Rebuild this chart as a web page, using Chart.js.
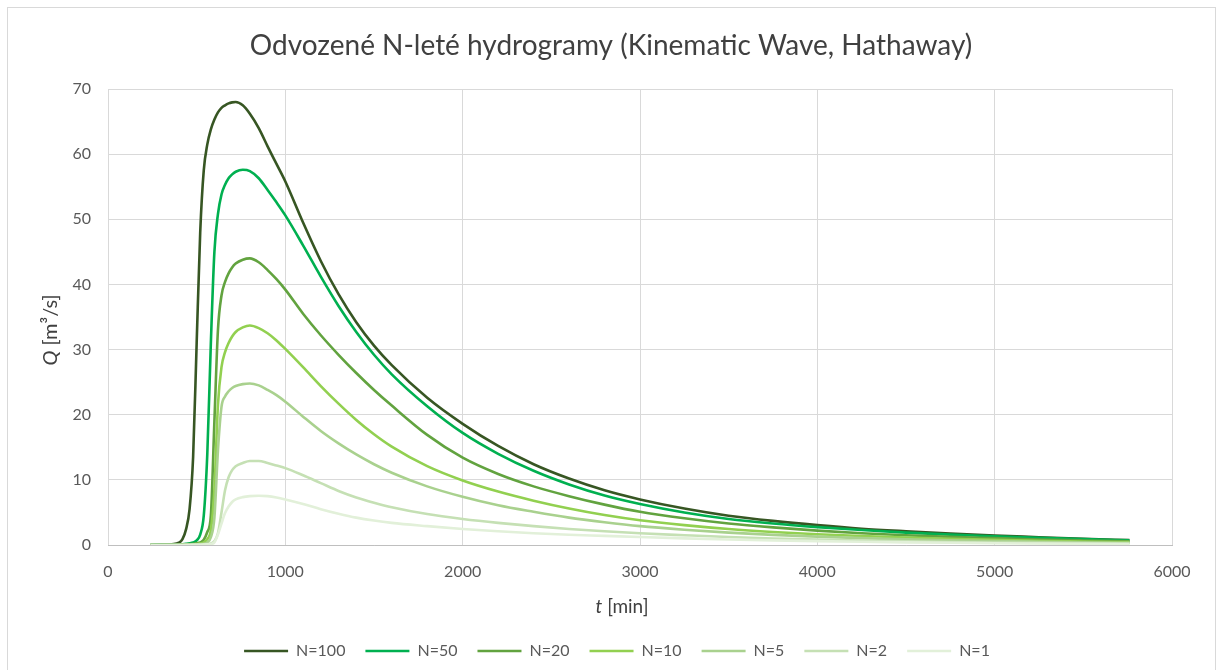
<!DOCTYPE html>
<html>
<head>
<meta charset="utf-8">
<script src="https://cdn.jsdelivr.net/npm/chart.js@4.4.1/dist/chart.umd.min.js"></script>
<style>
  html, body { margin: 0; padding: 0; background: #ffffff; }
  canvas { display: block; }
</style>
</head>
<body>
<canvas id="chart" width="1220" height="670"></canvas>
<script>
// Time axis [min]
const times = [240, 300, 360, 400, 420, 440, 460, 480, 500, 520, 540, 560, 580, 600, 620, 640, 660, 680, 700, 720,
               760, 800, 850, 900, 950, 1000, 1100, 1200, 1300, 1400, 1500, 1600, 1800, 2000,
               2200, 2400, 2600, 2800, 3000, 3250, 3500, 3750, 4000, 4250, 4500, 4750, 5000, 5250, 5500, 5760];

// Discharge Q [m3/s] for each return period
const qN100 = [0.02, 0.05, 0.12, 0.35, 0.9, 2.4, 5.5, 13.5, 31, 48, 57.5, 61.5, 63.8, 65.3, 66.4, 67.1, 67.5, 67.8, 67.95, 68.0,
               67.5, 66.2, 64.0, 61.2, 58.5, 55.8, 49.5, 43.6, 38.5, 34.2, 30.6, 27.6, 22.6, 18.6,
               15.2, 12.4, 10.2, 8.4, 7.0, 5.6, 4.5, 3.7, 3.05, 2.5, 2.1, 1.75, 1.45, 1.2, 0.95, 0.75];
const qN50  = [0.01, 0.02, 0.04, 0.08, 0.12, 0.18, 0.26, 0.4, 0.7, 1.6, 4.5, 14, 31, 45, 50.8, 53.8, 55.3, 56.3, 56.9, 57.3,
               57.6, 57.4, 56.3, 54.5, 52.6, 50.6, 46.0, 41.2, 36.7, 32.7, 29.2, 26.2, 21.3, 17.2,
               14.0, 11.4, 9.3, 7.6, 6.3, 5.0, 4.0, 3.3, 2.75, 2.3, 1.9, 1.6, 1.35, 1.1, 0.9, 0.72];
const qN20  = [0, 0.01, 0.02, 0.04, 0.06, 0.09, 0.13, 0.18, 0.26, 0.4, 0.8, 2.0, 4.5, 19, 33, 38.3, 40.4, 41.7, 42.6, 43.2,
               43.8, 44.0, 43.4, 42.2, 40.8, 39.2, 35.5, 32.2, 29.2, 26.4, 23.8, 21.4, 16.9, 13.4,
               10.9, 9.0, 7.5, 6.2, 5.1, 4.1, 3.3, 2.7, 2.2, 1.8, 1.5, 1.25, 1.05, 0.85, 0.7, 0.57];
const qN10  = [0, 0, 0.01, 0.02, 0.03, 0.05, 0.07, 0.1, 0.14, 0.22, 0.4, 0.9, 2.3, 8.5, 21.5, 27.3, 29.6, 31.0, 32.0, 32.7,
               33.4, 33.7, 33.3, 32.5, 31.4, 30.1, 27.3, 24.4, 21.7, 19.2, 17.0, 15.1, 12.1, 9.9,
               8.2, 6.8, 5.6, 4.6, 3.8, 3.05, 2.45, 2.0, 1.65, 1.38, 1.15, 0.95, 0.8, 0.66, 0.54, 0.44];
const qN5   = [0, 0, 0.01, 0.01, 0.02, 0.03, 0.04, 0.06, 0.09, 0.13, 0.2, 0.4, 1.2, 4.2, 14.5, 21.2, 22.8, 23.6, 24.1, 24.4,
               24.7, 24.8, 24.5, 23.8, 23.0, 22.0, 19.7, 17.5, 15.6, 13.9, 12.4, 11.1, 9.0, 7.4,
               6.1, 5.1, 4.2, 3.5, 2.9, 2.35, 1.9, 1.55, 1.28, 1.05, 0.87, 0.72, 0.6, 0.5, 0.41, 0.34];
const qN2   = [0, 0, 0, 0.01, 0.01, 0.02, 0.02, 0.03, 0.05, 0.07, 0.1, 0.15, 0.25, 0.6, 1.8, 5.0, 8.4, 10.4, 11.5, 12.1,
               12.6, 12.9, 12.9, 12.6, 12.2, 11.8, 10.7, 9.5, 8.3, 7.3, 6.5, 5.8, 4.75, 4.0,
               3.4, 2.9, 2.45, 2.1, 1.8, 1.5, 1.22, 1.0, 0.83, 0.69, 0.57, 0.47, 0.39, 0.32, 0.27, 0.22];
const qN1   = [0, 0, 0, 0, 0.01, 0.01, 0.01, 0.02, 0.03, 0.04, 0.06, 0.09, 0.15, 0.4, 1.6, 3.3, 4.9, 5.9, 6.6, 7.0,
               7.35, 7.5, 7.55, 7.5, 7.3, 7.0, 6.3, 5.5, 4.8, 4.2, 3.75, 3.4, 2.9, 2.45,
               2.1, 1.8, 1.57, 1.4, 1.22, 1.02, 0.85, 0.71, 0.59, 0.49, 0.41, 0.34, 0.28, 0.23, 0.19, 0.16];

const seriesLabels = ['N=100', 'N=50', 'N=20', 'N=10', 'N=5', 'N=2', 'N=1'];
const seriesValues = [qN100, qN50, qN20, qN10, qN5, qN2, qN1];
const seriesColors = ['#375623', '#00B050', '#62A33F', '#92D050', '#A9D18E', '#C5E0B4', '#E2F0D9'];

const xTickValues = [0, 1000, 2000, 3000, 4000, 5000, 6000];
const yTickValues = [0, 10, 20, 30, 40, 50, 60, 70];

const chartTitle = 'Odvozené N-leté hydrogramy (Kinematic Wave, Hathaway)';

const FONT = 'Lato, "Open Sans", sans-serif';
const TEXT_DARK = '#404040';
const TEXT_GREY = '#595959';

const datasets = seriesLabels.map((label, i) => ({
  label: label,
  data: times.map((t, k) => ({ x: t, y: seriesValues[i][k] })),
  borderColor: seriesColors[i],
  backgroundColor: seriesColors[i],
  borderWidth: 2.6,
  pointRadius: 0,
  pointHoverRadius: 0,
  fill: false,
  cubicInterpolationMode: 'monotone',
  order: seriesLabels.length - 1 - i
}));

// Draws a run of text pieces with their own font styles, centred on (cx, cy)
function drawRuns(ctx, runs, cx, cy) {
  let total = 0;
  runs.forEach(r => { ctx.font = r.font; r.w = ctx.measureText(r.text).width; total += r.w; });
  let x = cx - total / 2;
  ctx.textBaseline = 'middle';
  ctx.textAlign = 'left';
  runs.forEach(r => { ctx.font = r.font; ctx.fillText(r.text, x, cy); x += r.w; });
}

const decorations = {
  id: 'decorations',
  afterLayout(chart) {
    // centre the legend row under the whole figure rather than the padded box
    if (chart.legend) {
      chart.legend.left += 31;
      chart.legend.right += 31;
    }
  },
  beforeDraw(chart) {
    const ctx = chart.ctx;
    ctx.save();
    ctx.fillStyle = '#ffffff';
    ctx.fillRect(0, 0, chart.width, chart.height);
    ctx.strokeStyle = '#d9d9d9';
    ctx.lineWidth = 1;
    ctx.strokeRect(7.5, 7.5, 1208, 700);
    ctx.restore();
  },
  afterDraw(chart) {
    const ctx = chart.ctx;
    const area = chart.chartArea;
    ctx.save();
    ctx.fillStyle = TEXT_DARK;
    ctx.font = '28px ' + FONT;
    ctx.textAlign = 'center';
    ctx.textBaseline = 'middle';
    ctx.fillText(chartTitle, 611, 46);

    // x axis title
    drawRuns(ctx, [
      { text: 't', font: 'italic 19px ' + FONT },
      { text: ' [min]', font: '19px ' + FONT }
    ], 622, area.bottom + 62);

    // y axis title
    ctx.translate(51, 330);
    ctx.rotate(-Math.PI / 2);
    drawRuns(ctx, [
      { text: 'Q', font: 'italic 20px ' + FONT },
      { text: ' [m³/s]', font: '20px ' + FONT }
    ], 0, 0);
    ctx.restore();
  }
};

new Chart(document.getElementById('chart'), {
  type: 'line',
  data: { datasets: datasets },
  options: {
    responsive: false,
    animation: false,
    events: [],
    layout: { padding: { top: 89, right: 48, bottom: 1, left: 0 } },
    plugins: {
      title: { display: false },
      tooltip: { enabled: false },
      legend: {
        position: 'bottom',
        labels: {
          usePointStyle: true,
          pointStyle: 'line',
          pointStyleWidth: 44,
          padding: 20,
          color: TEXT_GREY,
          font: { family: FONT, size: 16 },
          sort: (a, b) => a.datasetIndex - b.datasetIndex
        }
      }
    },
    scales: {
      x: {
        type: 'linear',
        min: 0,
        max: 6000,
        afterBuildTicks: s => { s.ticks = xTickValues.map(v => ({ value: v })); },
        afterFit: s => { s.height = 78; },
        grid: { color: '#d9d9d9', lineWidth: 1, drawTicks: false },
        border: { display: true, color: '#bfbfbf', width: 1 },
        ticks: {
          color: TEXT_GREY,
          padding: 17,
          font: { family: FONT, size: 16 },
          callback: v => String(v)
        }
      },
      y: {
        type: 'linear',
        min: 0,
        max: 70,
        afterBuildTicks: s => { s.ticks = yTickValues.map(v => ({ value: v })); },
        afterFit: s => { s.width = 108; },
        grid: { color: '#d9d9d9', lineWidth: 1, drawTicks: false },
        border: { display: false },
        ticks: {
          color: TEXT_GREY,
          padding: 17,
          font: { family: FONT, size: 16 },
          callback: v => String(v)
        }
      }
    }
  },
  plugins: [decorations]
});
</script>
</body>
</html>
